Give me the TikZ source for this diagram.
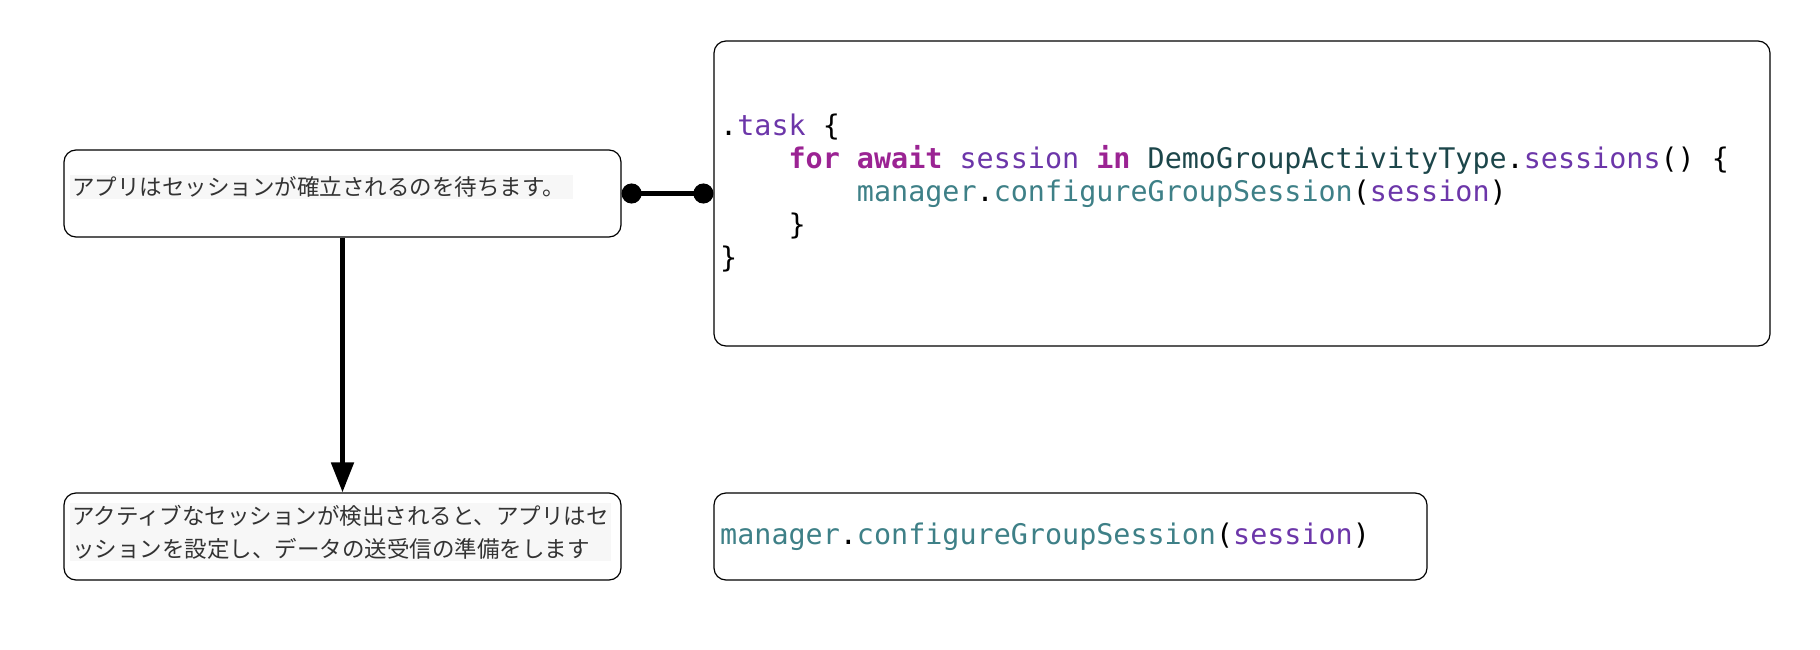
\documentclass[tikz,border=0pt]{standalone}
\usepackage{fontspec}
\setmonofont{DejaVu Sans Mono}
\newfontfamily\jpfont{Noto Sans CJK JP}
\usetikzlibrary{positioning,arrows.meta}
\definecolor{kwpurple}{HTML}{9B2393}
\definecolor{idpurple}{HTML}{6C36A9}
\definecolor{fnteal}{HTML}{3E8087}
\definecolor{tyteal}{HTML}{1C464A}
\newcommand{\kw}[1]{\textcolor{kwpurple}{\bfseries #1}}
\newcommand{\idp}[1]{\textcolor{idpurple}{#1}}
\newcommand{\fnt}[1]{\textcolor{fnteal}{#1}}
\newcommand{\tyt}[1]{\textcolor{tyteal}{#1}}
\newcommand{\ind}{\hphantom{xxxx}}
\begin{document}
\begin{tikzpicture}
  [x=1pt,y=1pt,
   box/.style={draw,rounded corners=12pt,line width=1.2pt,inner sep=0pt},
   jptext/.style={font=\jpfont\fontsize{22.5}{33}\selectfont,fill=black!3,inner sep=2pt,text=black!80,align=left,anchor=west},
   code/.style={font=\ttfamily\fontsize{28.4}{33}\selectfont,inner sep=0pt,align=left,anchor=west},
   link/.style={line width=5pt}]
  \useasboundingbox (0,0) rectangle (1820,-650);
  % boxes
  \node (wait) [box,minimum width=557pt,minimum height=87pt] at (342.5,-193.5) {};
  \node (setup) [box,minimum width=557pt,minimum height=87pt] at (342.5,-536.5) {};
  \node (task) [box,minimum width=1056pt,minimum height=305pt] at (1242,-193.5) {};
  \node (call) [box,minimum width=713pt,minimum height=87pt] at (1070.5,-536.5) {};
  % texts
  \node (waitlbl) [jptext] at (70,-187) {アプリはセッションが確立されるのを待ちます。\hspace{6pt}};
  \node (setuplbl) [jptext] at (70,-532) {アクティブなセッションが検出されると、アプリはセ\\ッションを設定し、データの送受信の準備をします};
  \node (tasklbl) [code] at (720,-193) {%
    .\idp{task} \{\\
    \ind\kw{for} \kw{await} \idp{session} \kw{in} \tyt{DemoGroupActivityType}.\idp{sessions}() \{\\
    \ind\ind\fnt{manager}.\fnt{configureGroupSession}(\idp{session})\\
    \ind\}\\
    \}};
  \node (calllbl) [code] at (720,-537) {\fnt{manager}.\fnt{configureGroupSession}(\idp{session})};
  % connectors
  \draw[link,{Circle[length=20pt]}-{Circle[length=20pt]}] (wait.east) -- (task.west |- wait.east);
  \draw[link,-{Triangle[length=30pt,width=22pt]}] (wait.south) -- (setup.north);
\end{tikzpicture}
\end{document}
